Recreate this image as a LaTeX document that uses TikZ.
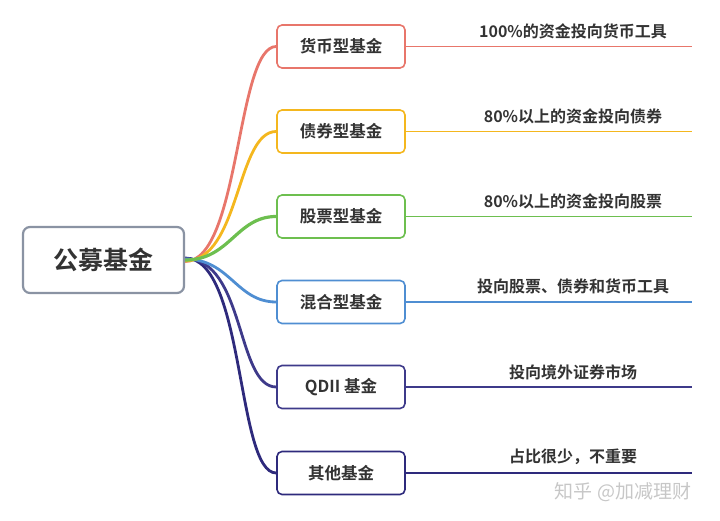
\documentclass[tikz,border=0pt]{standalone}
\usepackage{fontspec}
\usetikzlibrary{backgrounds}
\newfontfamily\cjk{Noto Sans CJK SC}
\newfontfamily\cjkb{Noto Sans CJK SC Bold}
\definecolor{cmoney}{HTML}{E8766B}
\definecolor{cbond}{HTML}{F4B71E}
\definecolor{cstock}{HTML}{6DBF4F}
\definecolor{cmix}{HTML}{4F8ED2}
\definecolor{cqdii}{HTML}{3E3A8A}
\definecolor{cother}{HTML}{2E2A7C}
\definecolor{croot}{HTML}{8A93A3}
\definecolor{ctext}{HTML}{333333}
\begin{document}
\begin{tikzpicture}[x=1pt,y=-1pt,
   rootbox/.style={draw=croot,line width=2.2pt,rounded corners=7pt,fill=white,
     minimum width=161pt,minimum height=66pt,font=\cjkb\fontsize{25}{25}\selectfont,text=ctext},
   fundbox/.style={draw=#1,line width=1.6pt,rounded corners=5pt,fill=white,
     minimum width=128pt,minimum height=43pt,font=\cjkb\fontsize{16.5}{16.5}\selectfont,text=ctext},
   branch/.style={draw=#1,line width=2.8pt},
   rule/.style={draw=#1,line width=1.6pt},
   note/.style={font=\cjkb\fontsize{16}{16}\selectfont,text=ctext}]
   \useasboundingbox (0,0) rectangle (720,521);
   \node[rootbox] (root) at (103.5,260) {公募基金};
   \node[fundbox=cmoney] (money) at (341,46.5) {货币型基金};
   \node[fundbox=cbond] (bond) at (341,131.5) {债券型基金};
   \node[fundbox=cstock] (stock) at (341,216.5) {股票型基金};
   \node[fundbox=cmix] (mix) at (341,302) {混合型基金};
   \node[fundbox=cqdii] (qdii) at (341,387) {QDII 基金};
   \node[fundbox=cother] (other) at (341,473) {其他基金};
   \coordinate (money-end) at (692,46.5);
   \coordinate (bond-end) at (692,131.5);
   \coordinate (stock-end) at (692,216.5);
   \coordinate (mix-end) at (692,302);
   \coordinate (qdii-end) at (692,387);
   \coordinate (other-end) at (692,473);
   \begin{pgfonlayer}{background}
   \draw[branch=cother] ([yshift=2pt]root.east) .. controls +(60,0) and +(-40,0) .. (other.west);
   \draw[branch=cqdii] ([yshift=1.5pt]root.east) .. controls +(60,0) and +(-40,0) .. (qdii.west);
   \draw[branch=cmix] ([yshift=1pt]root.east) .. controls +(45,0) and +(-40,0) .. (mix.west);
   \draw[branch=cmoney] ([yshift=-1.5pt]root.east) .. controls +(55,0) and +(-40,0) .. (money.west);
   \draw[branch=cbond] ([yshift=-1pt]root.east) .. controls +(55,0) and +(-40,0) .. (bond.west);
   \draw[branch=cstock,line width=3.2pt] (root.east) .. controls +(45,0) and +(-40,0) .. (stock.west);
   \end{pgfonlayer}
   \draw[rule=cmoney] (money.east) -- (money-end);
   \draw[rule=cbond] (bond.east) -- (bond-end);
   \draw[rule=cstock] (stock.east) -- (stock-end);
   \draw[rule=cmix] (mix.east) -- (mix-end);
   \draw[rule=cqdii] (qdii.east) -- (qdii-end);
   \draw[rule=cother] (other.east) -- (other-end);
   \node[note] (money-note) at (573,31) {100\%的资金投向货币工具};
   \node[note] (bond-note) at (573,116) {80\%以上的资金投向债券};
   \node[note] (stock-note) at (573,201) {80\%以上的资金投向股票};
   \node[note] (mix-note) at (573,286) {投向股票、债券和货币工具};
   \node[note] (qdii-note) at (573,372) {投向境外证券市场};
   \node[note] (other-note) at (573,457) {占比很少，不重要};
   \node[font=\cjk\fontsize{19}{19}\selectfont,text=black!22] (mark) at (623,492) {知乎 @加减理财};
\end{tikzpicture}
\end{document}
